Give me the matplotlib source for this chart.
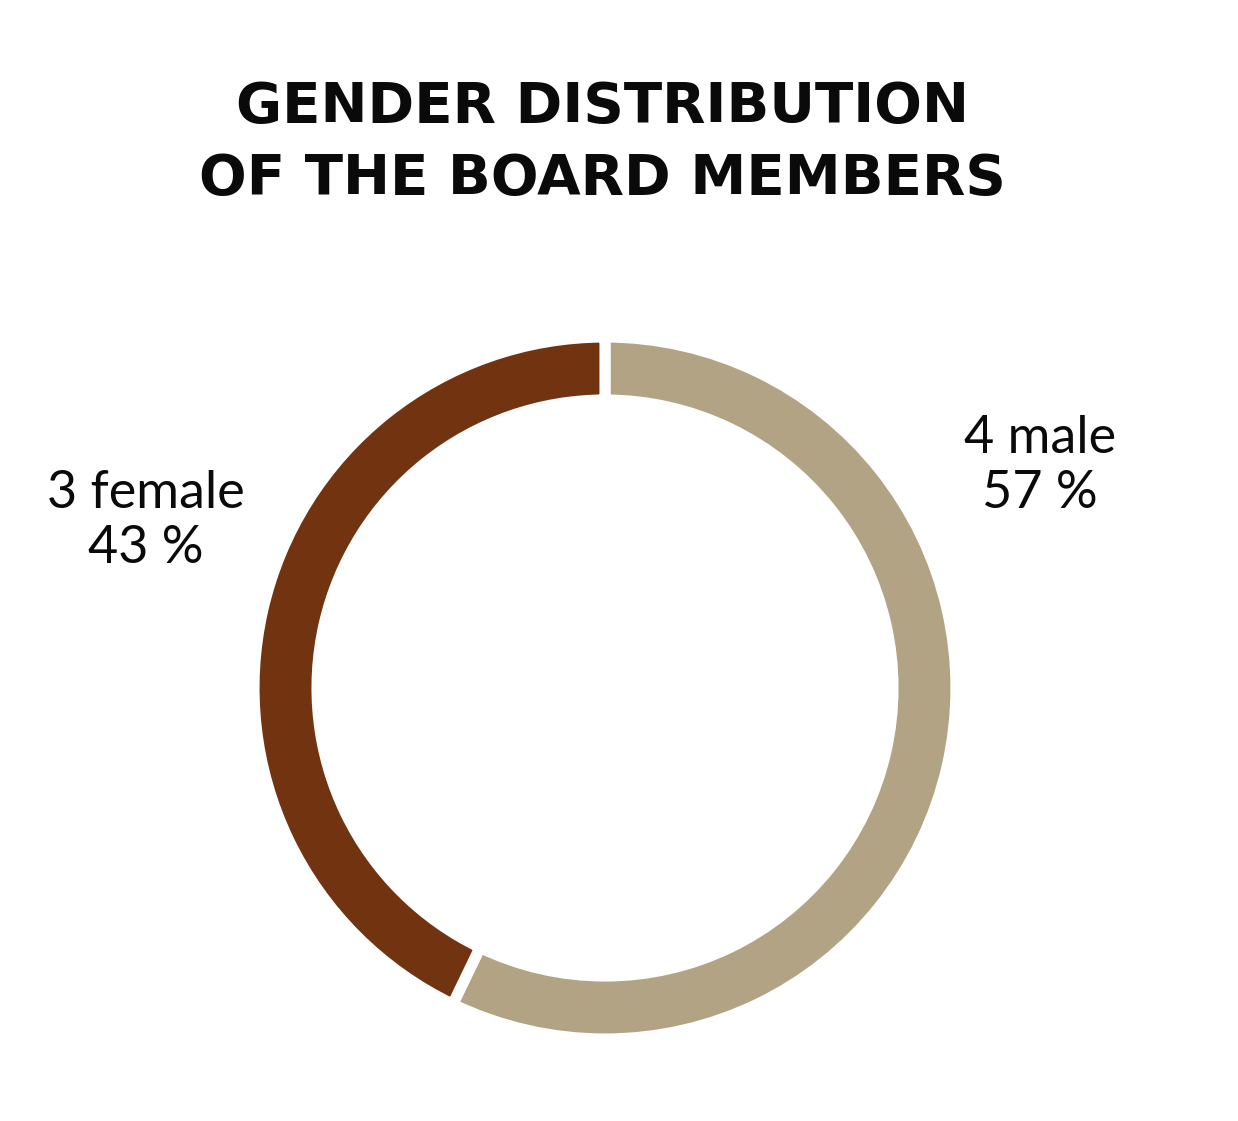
import matplotlib
matplotlib.use("Agg")
import matplotlib.pyplot as plt

labels = ["male", "female"]
counts = [4, 3]
percents = [57, 43]
colors = ["#B2A385", "#723310"]
title_lines = ["GENDER DISTRIBUTION", "OF THE BOARD MEMBERS"]

W, H = 1238, 1121
fig = plt.figure(figsize=(W / 100, H / 100), dpi=100)
fig.patch.set_facecolor("white")

cx, cy, R = 605, 688, 346
ax = fig.add_axes([(cx - R) / W, (H - cy - R) / H, 2 * R / W, 2 * R / H])
ax.pie(counts, colors=colors, startangle=90, counterclock=False, radius=1 + 5 / R,
       wedgeprops=dict(width=63 / R, edgecolor="white", linewidth=8))
ax.set_xlim(-1, 1)
ax.set_ylim(-1, 1)
ax.set_aspect("equal")
ax.axis("off")

tx = 0.5 * (237 + 968) / W
fig.text(tx, 1 - 107 / H, title_lines[0], ha="center", va="center",
         fontsize=40.5, fontweight="bold", family="DejaVu Sans", color="#0a0a0a")
fig.text(tx, 1 - 179 / H, title_lines[1], ha="center", va="center",
         fontsize=40.5, fontweight="bold", family="DejaVu Sans", color="#0a0a0a")

fig.text(1040 / W, 1 - 466 / H, f"{counts[0]} {labels[0]}\n{percents[0]} %", ha="center", va="center",
         fontsize=37.5, family="Lato", fontweight="normal", color="#0a0a0a", linespacing=1.2)
fig.text(146 / W, 1 - 521 / H, f"{counts[1]} {labels[1]}\n{percents[1]} %", ha="center", va="center",
         fontsize=37.5, family="Lato", fontweight="normal", color="#0a0a0a", linespacing=1.2)

fig.savefig("out.png", dpi=100, facecolor="white")
